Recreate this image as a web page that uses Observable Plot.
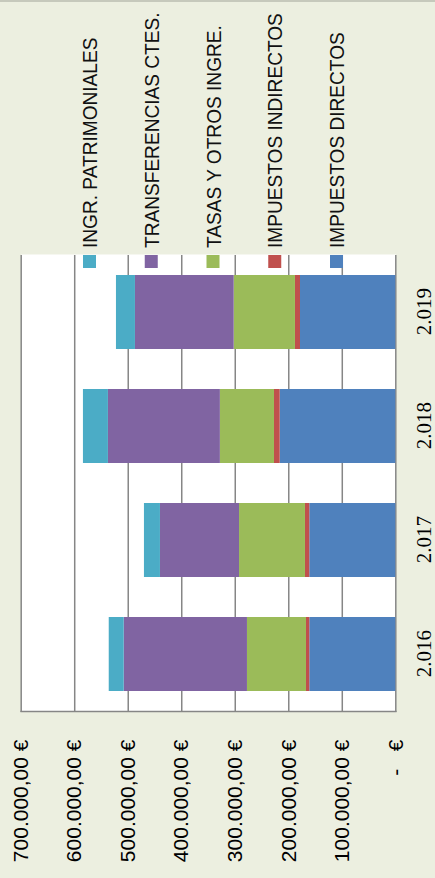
<!DOCTYPE html>
<html><head><meta charset="utf-8">
<script src="https://cdn.jsdelivr.net/npm/d3@7"></script>
<script src="https://cdn.jsdelivr.net/npm/@observablehq/plot@0.6"></script>
<style>
html,body{margin:0;padding:0;background:#ECEFE0;overflow:hidden;width:435px;height:878px;}
#rot{position:absolute;left:0;top:0;width:878px;height:435px;transform-origin:0 0;transform:translate(0,878px) rotate(-90deg);background:#ECEFE0;}
#chart{position:absolute;left:0;top:0;}
#legend{position:absolute;left:0;top:0;}
#topline{position:absolute;left:0;top:0;width:435px;height:2px;background:#C6C9BC;}
</style></head><body>
<div id="rot"><div id="chart"></div><svg id="legend" width="878" height="435"></svg></div>
<div id="topline"></div>
<script>
// Categories
const years = ["2.016", "2.017", "2.018", "2.019"];
// Series (stack order from zero outward)
const series = ["IMPUESTOS DIRECTOS", "IMPUESTOS INDIRECTOS", "TASAS Y OTROS INGRE.", "TRANSFERENCIAS CTES.", "INGR. PATRIMONIALES"];
const colors = ["#4F81BD", "#C0504D", "#9BBB59", "#8064A2", "#4BACC6"];
// Values in € per year
const impuestosDirectos   = [160700, 160700, 216000, 178100];
const impuestosIndirectos = [6200, 8100, 10700, 9400];
const tasasOtros          = [110300, 123200, 101100, 114500];
const transferencias      = [230300, 147800, 209200, 184500];
const ingrPatrimoniales   = [28000, 29900, 46700, 35500];
// Tick values and labels
const yTicks = [0, 100000, 200000, 300000, 400000, 500000, 600000, 700000];
const yTickLabels = ["-\u00a0\u00a0\u00a0€", "100.000,00 €", "200.000,00 €", "300.000,00 €", "400.000,00 €", "500.000,00 €", "600.000,00 €", "700.000,00 €"];

const seriesValues = [impuestosDirectos, impuestosIndirectos, tasasOtros, transferencias, ingrPatrimoniales];
const rows = series.flatMap((s, j) => years.map((y, i) => ({year: y, serie: s, value: seriesValues[j][i]})));

const chart = Plot.plot({
  width: 878, height: 435,
  marginLeft: 166, marginRight: 255, marginTop: 20.7, marginBottom: 39.7,
  style: {background: "transparent", fontFamily: "'Liberation Sans', Arial, sans-serif", color: "#000"},
  x: {domain: years, paddingInner: 0.352, paddingOuter: 0.176, label: null},
  y: {domain: [0, 700000], label: null},
  color: {domain: series, range: colors},
  marks: [
    Plot.frame({fill: "white"}),
    Plot.ruleY(yTicks, {stroke: "#868686", strokeWidth: 1.5}),
    Plot.barY(rows, {x: "year", y: "value", fill: "serie", order: series}),
    Plot.frame({anchor: "left", stroke: "#868686", strokeWidth: 1.5}),
    Plot.axisY(yTicks, {tickSize: 0, tickPadding: 28, fontSize: 21, tickFormat: d => yTickLabels[yTicks.indexOf(d)], label: null}),
    Plot.axisX({tickSize: 0, tickPadding: 20, fontSize: 21, fontFamily: "'Liberation Serif', 'Times New Roman', serif", label: null})
  ]
});
document.getElementById("chart").appendChild(chart);

// Legend (listed top to bottom in reverse stack order)
const legend = d3.select("#legend");
const legendItems = series.map((s, i) => ({s, c: colors[i]})).reverse();
const step = 61.75, top0 = 89.5;
const g = legend.selectAll("g").data(legendItems).join("g")
  .attr("transform", (d, i) => `translate(0,${top0 + i * step})`);
g.append("rect").attr("x", 610).attr("y", -6.5).attr("width", 13).attr("height", 13).attr("fill", d => d.c);
g.append("text").attr("transform", "translate(630,7.5) scale(0.91,1)")
  .attr("font-family", "'Liberation Sans', Arial, sans-serif").attr("font-size", 21).attr("fill", "#111")
  .text(d => d.s);
</script>
</body></html>
